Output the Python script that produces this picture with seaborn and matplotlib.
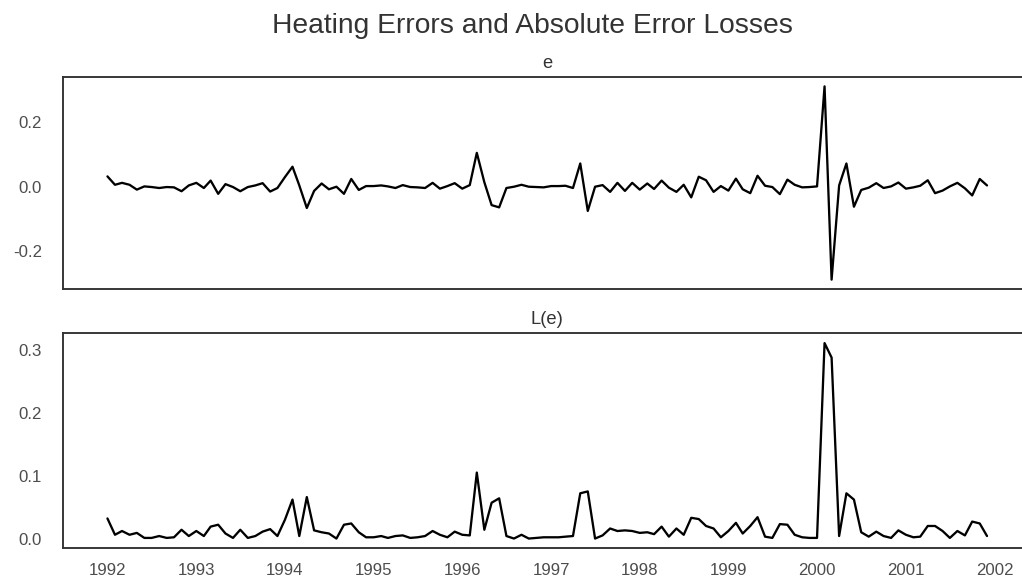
import numpy as np
import pandas as pd
import matplotlib
matplotlib.use("Agg")
import matplotlib.pyplot as plt
import matplotlib.dates as mdates
import seaborn as sns

# Monthly heating forecast errors, Jan 1992 - Dec 2001
months = pd.date_range("1992-01-01", periods=120, freq="MS")

errors = [
    0.032, 0.006, 0.012, 0.006, -0.009, 0.001, -0.001, -0.004, -0.001, -0.002, -0.014, 0.004,   # 1992
    0.012, -0.004, 0.019, -0.022, 0.008, -0.001, -0.014, -0.001, 0.004, 0.011, -0.015, -0.004,   # 1993
    0.030, 0.062, 0.004, -0.066, -0.013, 0.010, -0.008, 0.000, -0.022, 0.024, -0.010, 0.002,     # 1994
    0.002, 0.004, 0.001, -0.004, 0.005, -0.001, -0.002, -0.004, 0.012, -0.006, 0.002, 0.011,     # 1995
    -0.006, 0.005, 0.105, 0.014, -0.057, -0.064, -0.004, 0.000, 0.006, 0.000, -0.001, -0.002,    # 1996
    0.002, 0.002, 0.003, -0.004, 0.072, -0.075, 0.000, 0.005, -0.016, 0.012, -0.013, 0.012,      # 1997
    -0.009, 0.010, -0.007, 0.019, -0.003, -0.016, 0.006, -0.033, 0.031, 0.020, -0.016, 0.002,    # 1998
    -0.012, 0.025, -0.008, -0.020, 0.034, 0.003, -0.001, -0.023, 0.022, 0.006, -0.002, -0.001,   # 1999
    0.001, 0.311, -0.288, 0.004, 0.072, -0.062, -0.010, -0.003, 0.011, -0.004, 0.001, 0.013,     # 2000
    -0.006, -0.002, 0.003, 0.020, -0.020, -0.012, 0.001, 0.012, -0.005, -0.027, 0.024, 0.004,    # 2001
]

# Absolute error loss
losses = np.abs(errors)

top_yticks = [-0.2, 0.0, 0.2]
bottom_yticks = [0.0, 0.1, 0.2, 0.3]

sns.set_theme(style="white", context="notebook")
plt.rcParams["font.family"] = ["Liberation Sans", "DejaVu Sans"]

dpi = 110
fig = plt.figure(figsize=(1022 / dpi, 586 / dpi), dpi=dpi)
ax_e = fig.add_axes([0.0621, 0.5063, 0.9467, 0.3628])
ax_l = fig.add_axes([0.0621, 0.0643, 0.9467, 0.3669], sharex=ax_e)

frame = pd.DataFrame({"date": months, "e": errors, "L": losses})

sns.lineplot(data=frame, x="date", y="e", ax=ax_e, color="black", linewidth=1.5)
sns.lineplot(data=frame, x="date", y="L", ax=ax_l, color="black", linewidth=1.5)

for ax, title, yt in [(ax_e, "e", top_yticks), (ax_l, "L(e)", bottom_yticks)]:
    ax.set_title(title, fontsize=12, color=".2")
    ax.set_xlabel("")
    ax.set_ylabel("")
    ax.set_yticks(yt)
    ax.yaxis.set_major_formatter(matplotlib.ticker.FormatStrFormatter("%.1f"))
    ax.tick_params(axis="y", labelsize=11, pad=8, colors=".3")
    ax.tick_params(axis="x", labelsize=11, colors=".3")
    for s in ax.spines.values():
        s.set_color(".2")

ax_l.xaxis.set_major_locator(mdates.YearLocator())
ax_l.xaxis.set_major_formatter(mdates.DateFormatter("%Y"))
plt.setp(ax_e.get_xticklabels(), visible=False)

fig.suptitle("Heating Errors and Absolute Error Losses", fontsize=18.5, x=0.521, y=0.977, color=".2")

fig.savefig("out.png", dpi=dpi)
